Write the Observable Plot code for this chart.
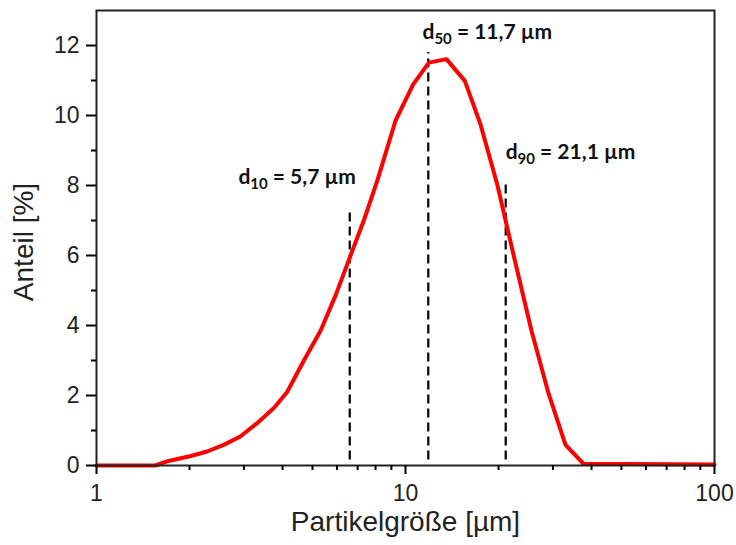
<!DOCTYPE html>
<html>
<head>
<meta charset="utf-8">
<script src="https://cdn.jsdelivr.net/npm/d3@7"></script>
<script src="https://cdn.jsdelivr.net/npm/@observablehq/plot@0.6"></script>
<style>
  html, body { margin: 0; padding: 0; background: #fff; }
  #chart { width: 736px; height: 545px; }
</style>
</head>
<body>
<div id="chart"></div>
<script>
// Particle size distribution (µm) vs. share (%)
const sizes  = [1, 1.55, 1.71, 2.02, 2.28, 2.58, 2.92, 3.31, 3.75, 4.14, 4.69, 5.31, 5.94, 6.64, 7.33, 8.1, 9.28, 10.59, 11.9, 13.57, 15.56, 17.48, 19.85, 22.53, 25.57, 29.03, 32.95, 37.67, 100];
const shares = [0, 0, 0.13, 0.27, 0.4, 0.59, 0.83, 1.21, 1.64, 2.1, 3.0, 3.85, 4.86, 6.0, 7.0, 8.13, 9.85, 10.89, 11.51, 11.61, 10.99, 9.75, 8.0, 5.9, 3.85, 2.06, 0.59, 0.05, 0.03];

// Characteristic diameters (dashed markers)
const markerX    = [6.6, 11.85, 21.1];
const markerTop  = [7.23, 11.8, 8.07];
const markerBase = [0.16, 0.16, 0.16];

// Annotation labels
const labelSub  = ["10", "50", "90"];
const labelRest = ["= 5,7 µm", "= 11,7 µm", "= 21,1 µm"];
const labelX    = [4.46, 18.4, 34.2];
const labelY    = [8.05, 12.18, 8.76];

// Axis titles
const xTitle = "Partikelgröße [µm]";
const yTitle = "Anteil [%]";

// Ticks
const yMajor = [0, 2, 4, 6, 8, 10, 12];
const yMinor = [1, 3, 5, 7, 9, 11];
const xMajor = [1, 10, 100];
const xMinor = [2, 3, 4, 5, 6, 7, 8, 9, 20, 30, 40, 50, 60, 70, 80, 90];

const curve = sizes.map((s, i) => ({size: s, share: shares[i]}));
const markers = markerX.map((x, i) => ({x, y1: markerBase[i], y2: markerTop[i]}));
const labels = labelSub.map((s, i) => ({x: labelX[i], y: labelY[i], sub: s, rest: labelRest[i]}));

const axisFont = "'Liberation Sans', Arial, sans-serif";

const chart = Plot.plot({
  width: 736,
  height: 545,
  marginLeft: 96,
  marginRight: 22,
  marginTop: 10,
  marginBottom: 80,
  style: {fontFamily: axisFont, fontSize: "23px", background: "#fff"},
  x: {type: "log", domain: [1, 100]},
  y: {domain: [0, 13]},
  marks: [
    Plot.ruleX(markers, {x: "x", y1: "y1", y2: "y2", stroke: "#000", strokeWidth: 2.2, strokeDasharray: "9,5"}),
    Plot.line(curve, {x: "size", y: "share", stroke: "#ff0000", strokeWidth: 4, strokeLinejoin: "miter"}),
    Plot.frame({stroke: "#222", strokeWidth: 2}),
    Plot.axisY(yMajor, {tickSize: 10, tickPadding: 7, strokeWidth: 2, fill: "#222", fontSize: 23, label: null}),
    Plot.axisY(yMinor, {tickSize: 5, strokeWidth: 2, text: null, label: null}),
    Plot.axisX(xMajor, {tickSize: 9, tickPadding: 10, strokeWidth: 2, fill: "#222", fontSize: 23, tickFormat: d => String(d), label: null}),
    Plot.axisX(xMinor, {tickSize: 5, strokeWidth: 2, text: null, label: null}),
    Plot.text([xTitle], {text: d => d, frameAnchor: "bottom", textAnchor: "middle", lineAnchor: "middle", dy: 57, fontSize: 28, fill: "#222", fontFamily: axisFont}),
    Plot.text([yTitle], {text: d => d, frameAnchor: "left", textAnchor: "middle", lineAnchor: "middle", rotate: -90, dx: -72, dy: 4, fontSize: 28, fill: "#222", fontFamily: axisFont}),
    Plot.text(labels, {x: "x", y: "y", text: d => "d" + d.sub + " " + d.rest, textAnchor: "middle", lineAnchor: "bottom", fontSize: 21, fontWeight: "bold", fontFamily: "Lato, 'Open Sans', sans-serif", fill: "#111"})
  ]
});

document.getElementById("chart").appendChild(chart);

// Rebuild annotation texts with real subscripts
d3.select(chart).selectAll("text").filter(function() { return /^d\d\d /.test(this.textContent); }).each(function() {
  const t = d3.select(this);
  const m = this.textContent.match(/^d(\d\d) (.*)$/);
  t.text(null);
  t.append("tspan").text("d");
  t.append("tspan").attr("font-size", 15).attr("dy", 5).text(m[1]);
  t.append("tspan").attr("dy", -5).text("\u00a0" + m[2]);
});
</script>
</body>
</html>
